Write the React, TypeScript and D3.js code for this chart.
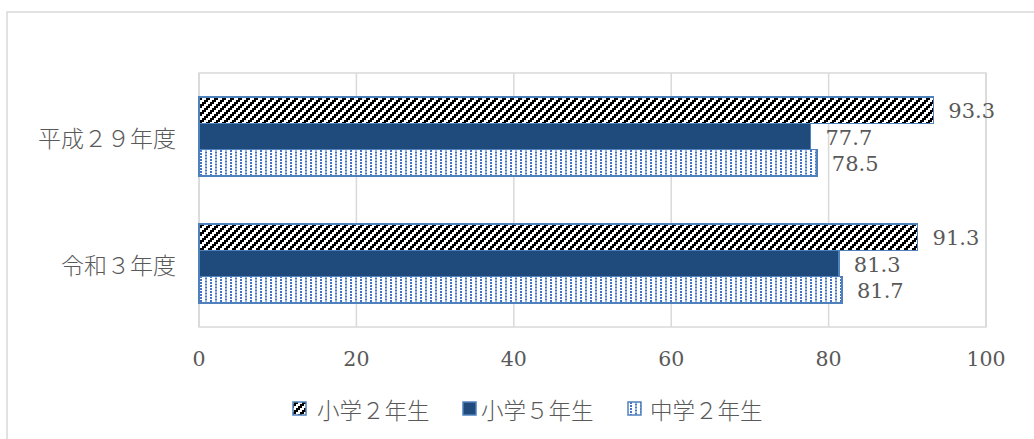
import React from "react";
import * as d3 from "d3";

// Survey years (category axis) and grade groups (series)
const categories = ["平成２９年度", "令和３年度"];
const seriesNames = ["小学２年生", "小学５年生", "中学２年生"];

// Values per series, in category order
const grade2Elementary = [93.3, 91.3];
const grade5Elementary = [77.7, 81.3];
const grade2Middle = [78.5, 81.7];

const xTicks = [0, 20, 40, 60, 80, 100];

const seriesValues = [grade2Elementary, grade5Elementary, grade2Middle];
const fills = ["url(#diagPat)", "#1F4A7C", "url(#dotPat)"];

const W = 1034;
const H = 439;
const TEXT = "#595959";
const GRID = "#d9d9d9";
const EDGE = "#4F81BD";
const NUM_FONT = "'DejaVu Serif', 'Liberation Serif', serif";
const JP_FONT = "'Noto Sans CJK JP', 'Noto Sans', sans-serif";

function DiagPattern() {
  // 8x8 wide upward diagonal, black on white, stepped in 2px blocks
  const cells: JSX.Element[] = [];
  for (let r = 0; r < 8; r++) {
    for (let c = 0; c < 8; c++) {
      const k = (c + 2 * Math.floor(r / 2) + 8) % 8;
      if (k < 4) cells.push(<rect key={`${r}-${c}`} x={c} y={r} width={1} height={1} fill="#000" />);
    }
  }
  return (
    <pattern id="diagPat" patternUnits="userSpaceOnUse" width={8} height={8}>
      <rect width={8} height={8} fill="#fff" />
      {cells}
    </pattern>
  );
}

function DotPattern() {
  // staggered columns of short blue dashes
  return (
    <pattern id="dotPat" patternUnits="userSpaceOnUse" width={10} height={6}>
      <rect width={10} height={6} fill="#fff" />
      <rect x={0} y={0} width={2} height={2} fill="#4472C4" />
      <rect x={0} y={3} width={2} height={2} fill="#4472C4" />
      <rect x={5} y={1.5} width={2} height={2} fill="#4472C4" />
      <rect x={5} y={4.5} width={2} height={1.5} fill="#4472C4" />
      <rect x={5} y={0} width={2} height={0.5} fill="#4472C4" />
    </pattern>
  );
}

export default function App() {
  const x = d3.scaleLinear().domain([0, 100]).range([199, 986]);
  const y0 = d3.scaleBand<string>().domain(categories).range([73, 327]);
  const y1 = d3
    .scaleBand<string>()
    .domain(seriesNames)
    .range([0, y0.bandwidth()])
    .paddingInner(0)
    .paddingOuter(0.91);

  const legendItems = [
    { sx: 293, tx: 317 },
    { sx: 463, tx: 481 },
    { sx: 628, tx: 650 },
  ];

  return (
    <svg
      width={W}
      height={H}
      style={{ position: "absolute", left: 0, top: 0, background: "#fff" }}
    >
      <defs>
        <DiagPattern />
        <DotPattern />
      </defs>

      {/* chart frame */}
      <rect x={7} y={12} width={1040} height={440} fill="#fff" stroke={GRID} strokeWidth={1.5} />

      {/* plot area border and vertical gridlines */}
      <rect x={x(0)} y={73} width={x(100) - x(0)} height={254} fill="none" stroke={GRID} strokeWidth={1.5} />
      {xTicks.map((t) => (
        <line key={t} x1={x(t)} x2={x(t)} y1={73} y2={327} stroke={GRID} strokeWidth={1.5} />
      ))}

      {/* bars */}
      {categories.map((cat, ci) =>
        seriesNames.map((s, si) => {
          const v = seriesValues[si][ci];
          const yy = (y0(cat) ?? 0) + (y1(s) ?? 0);
          const bh = y1.bandwidth();
          return (
            <g key={`${cat}-${s}`}>
              <rect
                x={x(0)}
                y={yy}
                width={x(v) - x(0)}
                height={bh}
                fill={fills[si]}
                stroke={EDGE}
                strokeWidth={1.5}
                shapeRendering="crispEdges"
              />
              <text
                x={x(v) + 15}
                y={yy + bh / 2 + 1}
                dominantBaseline="central"
                fontFamily={NUM_FONT}
                fontSize={21}
                fill={TEXT}
              >
                {v.toFixed(1)}
              </text>
            </g>
          );
        })
      )}

      {/* category labels */}
      {categories.map((cat) => (
        <text
          key={cat}
          x={176}
          y={(y0(cat) ?? 0) + y0.bandwidth() / 2}
          textAnchor="end"
          dominantBaseline="central"
          fontFamily={JP_FONT}
          fontSize={23}
          fontWeight={300}
          fill={TEXT}
        >
          {cat}
        </text>
      ))}

      {/* value axis tick labels */}
      {xTicks.map((t) => (
        <text
          key={t}
          x={x(t)}
          y={359}
          textAnchor="middle"
          dominantBaseline="central"
          fontFamily={NUM_FONT}
          fontSize={20.5}
          fill={TEXT}
        >
          {t}
        </text>
      ))}

      {/* legend */}
      {seriesNames.map((s, i) => (
        <g key={s}>
          <rect
            x={legendItems[i].sx}
            y={402}
            width={13}
            height={13}
            fill={fills[i]}
            stroke={EDGE}
            strokeWidth={1.5}
          />
          <text
            x={legendItems[i].tx}
            y={409}
            dominantBaseline="central"
            fontFamily={JP_FONT}
            fontSize={22.5}
            fontWeight={300}
            fill={TEXT}
          >
            {s}
          </text>
        </g>
      ))}
    </svg>
  );
}
